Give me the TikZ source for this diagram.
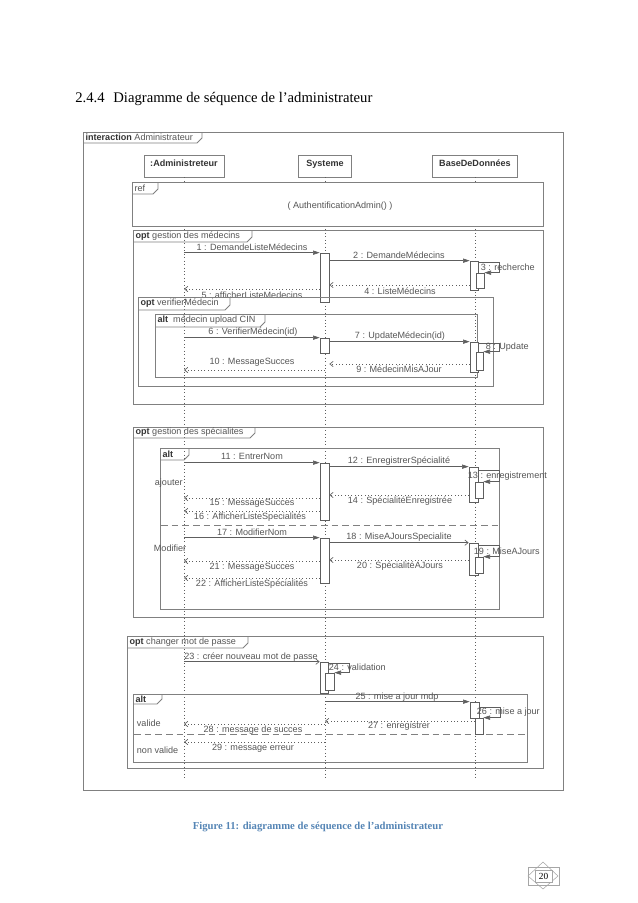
\documentclass[tikz,border=0pt]{standalone}
\usepackage{fontspec}
\setmainfont{Liberation Serif}
\newfontfamily\umlfont{Liberation Sans}
\usepackage{tikz}
\usetikzlibrary{arrows.meta, fit, calc}
\definecolor{sqline}{HTML}{5E5E5E}
\definecolor{sqframe}{HTML}{808080}
\definecolor{sqtext}{HTML}{555555}
\definecolor{sqdark}{HTML}{333333}
\definecolor{capblue}{HTML}{5585B5}
\tikzset{
  lifehead/.style={draw=sqframe, fill=white, line width=0.6pt, minimum height=16.5pt,
                   inner sep=1pt, text height=5pt, text depth=4.5pt,
                   font=\umlfont\fontsize{6.8}{8}\selectfont\bfseries, text=sqdark},
  lifeline/.style={sqline, dotted, line width=0.6pt},
  frameline/.style={draw=sqframe, line width=0.7pt},
  framelbl/.style={anchor=west, inner sep=1pt, font=\umlfont\fontsize{6.8}{8}\selectfont, text=sqtext},
  act/.style={draw=sqline, fill=white, line width=0.5pt, inner sep=0pt},
  msg/.style={sqline, line width=0.5pt, -{Triangle[length=5pt, width=3.2pt]}},
  asyncmsg/.style={sqline, line width=0.5pt, -{Straight Barb[length=2.5pt, width=4pt]}},
  reply/.style={sqline, line width=0.5pt, dotted, -{Straight Barb[length=2.5pt, width=4pt]}},
  lbl/.style={inner sep=0.5pt, font=\umlfont\fontsize{6.8}{8}\selectfont, text=sqtext},
  opsep/.style={sqframe, line width=0.7pt, dash pattern=on 5pt off 3pt},
}
% frame: name, x1, y1, x2, y2, tab x, tab y, label
\newcommand{\umlframe}[8]{%
  \draw[frameline] (#2,#3) rectangle (#4,#5);
  \draw[frameline] (#2,#7) -- ({#6-5},#7) -- (#6,{#7-5}) -- (#6,#3);
  \node[framelbl] (#1) at ({#2+1},{(#3+#7)/2}) {#8};
}
\begin{document}
\begin{tikzpicture}[x=0.75pt, y=-0.75pt]
  \useasboundingbox (0,0) rectangle (638,903);

  \node[anchor=west, inner sep=0pt, font=\fontsize{11}{13}\selectfont] (title) at (75,99)
    {2.4.4\hspace{0.6em}Diagramme de séquence de l’administrateur};

  \umlframe{fInter}{83}{132}{563}{790}{202}{143}{{\bfseries\color{sqdark}interaction} Administrateur}

  % lifelines
  \node[lifehead, minimum width=60pt] (admin) at (184,166) {:Administreteur};
  \node[lifehead, minimum width=39.75pt] (sys) at (325,166) {Systeme};
  \node[lifehead, minimum width=63.75pt] (bdd) at (475,166) {BaseDeDonnées};
  \coordinate (adminEnd) at (admin |- 0,780);
  \coordinate (sysEnd) at (sys |- 0,780);
  \coordinate (bddEnd) at (bdd |- 0,780);
  \draw[lifeline] (admin) -- (adminEnd);
  \draw[lifeline] (sys) -- (sysEnd);
  \draw[lifeline] (bdd) -- (bddEnd);

  % ref
  \fill[white] (132,182) rectangle (543,226);
  \umlframe{fRef}{132}{182}{543}{226}{158}{194}{ref}
  \node[lbl] (refTxt) at (340,206) {( AuthentificationAdmin() )};

  % opt gestion des medecins
  \umlframe{fOpt1}{133}{230}{543}{404}{252}{242}{{\bfseries\color{sqdark}opt} gestion des médecins}
  \node[act, fit={(320,253) (329,302)}] (aS1) {};
  \node[act, fit={(470,261) (478,290)}] (aB1) {};
  \node[act, fit={(476,273) (484,288)}] (nB1) {};
  \draw[msg] (admin |- aS1.north) -- (aS1.north west);
  \node[lbl] (l1) at (252,247) {1 : DemandeListeMédecins};
  \draw[msg] (aS1.east |- aB1.north) -- (aB1.north west);
  \node[lbl] (l2) at (399,255) {2 : DemandeMédecins};
  \draw[msg] (aB1.east |- 0,262) -- ++(21,0) |- (nB1.north east);
  \node[lbl, anchor=west] (l3) at (480,267) {3 : recherche};
  \draw[reply] (aB1.west |- 0,285) -- (aS1.east |- 0,285);
  \node[lbl] (l4) at (400,291) {4 : ListeMédecins};
  \draw[reply] (aS1.west |- 0,289) -- (admin |- 0,289);
  \node[lbl] (l5) at (252,295) {5 : afficherListeMedecins};

  \umlframe{fOpt2}{138}{297}{493}{386}{230}{310}{{\bfseries\color{sqdark}opt} verifierMédecin}
  \umlframe{fAlt1}{155}{314}{477}{377}{265}{327}{{\bfseries\color{sqdark}alt} \ médecin upload CIN}
  \node[act, fit={(320,338) (329,353)}] (aS2) {};
  \node[act, fit={(470,342) (478,372)}] (aB2) {};
  \node[act, fit={(476,352) (483,370)}] (nB2) {};
  \draw[msg] (admin |- aS2.north) -- (aS2.north west);
  \node[lbl] (l6) at (253,332) {6 : VerifierMédecin(id)};
  \draw[msg] (aS2.east |- aB2.north) -- (aB2.north west);
  \node[lbl] (l7) at (400,336) {7 : UpdateMédecin(id)};
  \draw[msg] (aB2.east |- 0,343) -- ++(21,0) |- (nB2.north east);
  \node[lbl, anchor=west] (l8) at (485,347) {8 : Update};
  \draw[reply] (aB2.west |- 0,364) -- (aS2.east |- 0,364);
  \node[lbl] (l9) at (399,369) {9 : MédecinMisAJour};
  \draw[reply] (sys |- 0,370) -- (admin |- 0,370);
  \node[lbl] (l10) at (252,362) {10 : MessageSucces};

  % opt gestion des specialites
  \umlframe{fOpt3}{133}{427}{543}{617}{255}{438}{{\bfseries\color{sqdark}opt} gestion des spécialites}
  \umlframe{fAlt2}{160}{448}{499}{609}{189}{460}{{\bfseries\color{sqdark}alt}}
  \draw[opsep] (fAlt2.west |- 0,525) -- (499,525);
  \node[lbl, anchor=west] (gAjout) at (154,483) {ajouter};
  \node[lbl, anchor=west] (gModif) at (153,548) {Modifier};
  \node[act, fit={(320,463) (329,520)}] (aS3) {};
  \node[act, fit={(469,467) (478,502)}] (aB3) {};
  \node[act, fit={(475,482) (483,498)}] (nB3) {};
  \draw[msg] (admin |- aS3.north) -- (aS3.north west);
  \node[lbl] (l11) at (252,456) {11 : EntrerNom};
  \draw[msg] (aS3.east |- aB3.north) -- (aB3.north west);
  \node[lbl] (l12) at (399,461) {12 : EnregistrerSpécialité};
  \draw[msg] (aB3.east |- 0,470) -- ++(21,0) |- (nB3.north east);
  \node[lbl, anchor=west] (l13) at (467,476) {13 : enregistrement};
  \draw[reply] (aB3.west |- 0,495) -- (aS3.east |- 0,495);
  \node[lbl] (l14) at (400,501) {14 : SpécialitéEnregistrée};
  \draw[reply] (aS3.west |- 0,498) -- (admin |- 0,498);
  \node[lbl] (l15) at (252,503) {15 : MessageSucces};
  \draw[reply] (aS3.west |- 0,511) -- (admin |- 0,511);
  \node[lbl] (l16) at (250,517) {16 : AfficherListeSpecialités};
  \node[act, fit={(320,538) (329,583)}] (aS4) {};
  \node[act, fit={(469,543) (478,575)}] (aB4) {};
  \node[act, fit={(475,557) (483,573)}] (nB4) {};
  \draw[msg] (admin |- aS4.north) -- (aS4.north west);
  \node[lbl] (l17) at (252,532) {17 : ModifierNom};
  \draw[asyncmsg] (aS4.east |- aB4.north) -- (aB4.north west);
  \node[lbl] (l18) at (399,537) {18 : MiseAJoursSpecialite};
  \draw[msg] (aB4.east |- 0,545) -- ++(21,0) |- (nB4.north east);
  \node[lbl, anchor=west] (l19) at (473,551) {19 : MiseAJours};
  \draw[reply] (aB4.west |- 0,560) -- (aS4.east |- 0,560);
  \node[lbl] (l20) at (400,566) {20 : SpécialitéAJours};
  \draw[reply] (aS4.west |- 0,561) -- (admin |- 0,561);
  \node[lbl] (l21) at (252,567) {21 : MessageSucces};
  \draw[reply] (aS4.west |- 0,578) -- (admin |- 0,578);
  \node[lbl] (l22) at (252,584) {22 : AfficherListeSpécialités};

  % opt changer mot de passe
  \umlframe{fOpt4}{127}{636}{543}{768}{248}{648}{{\bfseries\color{sqdark}opt} changer mot de passe}
  \node[act, fit={(320,662) (328,693)}] (aS5) {};
  \node[act, fit={(325,673) (334,690)}] (nS5) {};
  \draw[asyncmsg] (admin |- aS5.north) -- (aS5.north west);
  \node[lbl] (l23) at (251,657) {23 : créer nouveau mot de passe};
  \draw[msg] (aS5.east |- 0,663) -- ++(21,0) |- (nS5.north east);
  \node[lbl, anchor=west] (l24) at (328,667) {24 : validation};
  \umlframe{fAlt3}{133}{694}{527}{762}{162}{704}{{\bfseries\color{sqdark}alt}}
  \draw[opsep] (fAlt3.west |- 0,734) -- (527,734);
  \node[lbl, anchor=west] (gValide) at (136,723) {valide};
  \node[lbl, anchor=west] (gNonValide) at (136,750) {non valide};
  \node[act, fit={(470,702) (479,718)}] (aB5) {};
  \node[act, fit={(475,718) (483,734)}] (nB5) {};
  \draw[msg] (sys |- aB5.north) -- (aB5.north west);
  \node[lbl] (l25) at (397,697) {25 : mise a jour mdp};
  \draw[msg] (aB5.east |- 0,707) -- ++(21,0) |- (nB5.north east);
  \node[lbl, anchor=west] (l26) at (476,712) {26 : mise a jour};
  \draw[reply] (nB5.west |- 0,721) -- (sys |- 0,721);
  \node[lbl] (l27) at (399,726) {27 : enregistrer};
  \draw[reply] (sys |- 0,724) -- (admin |- 0,724);
  \node[lbl] (l28) at (253,730) {28 : message de succes};
  \draw[reply] (sys |- 0,742) -- (admin |- 0,742);
  \node[lbl] (l29) at (253,748) {29 : message erreur};

  % caption and page number
  \node[font=\bfseries\fontsize{8}{10}\selectfont, text=capblue] (caption) at (318,827)
    {Figure 11: diagramme de séquence de l’administrateur};
  \draw[gray!70, line width=0.4pt] (528,867) rectangle (559,885);
  \draw[gray!70, line width=0.4pt] (543,862) -- (558,876) -- (543,889) -- (528,876) -- cycle;
  \draw[gray!70, fill=white, line width=0.4pt] (535,870) rectangle (552,882);
  \node[font=\fontsize{7}{8}\selectfont] (pageNo) at (543.5,876) {20};
\end{tikzpicture}
\end{document}
